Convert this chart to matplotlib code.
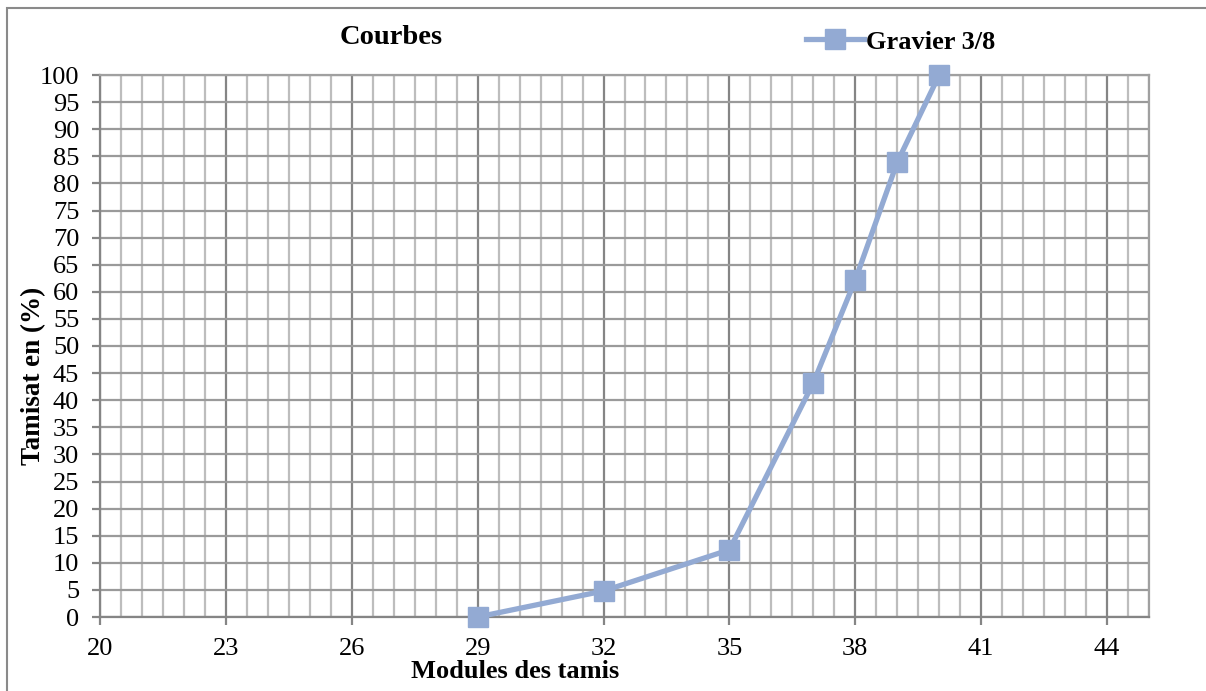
import matplotlib.pyplot as plt
import numpy as np
from matplotlib.patches import Rectangle

# Courbe granulométrique : gravier 3/8
modules = [29, 32, 35, 37, 38, 39, 40]
tamisat = [0, 4.8, 12.4, 43.2, 62.2, 83.9, 100]
serie = "Gravier 3/8"
x_ticks = [20, 23, 26, 29, 32, 35, 38, 41, 44]
y_ticks = list(range(0, 101, 5))

plt.rcParams['font.family'] = ['Liberation Serif', 'DejaVu Serif']

W, H = 1206, 691
fig = plt.figure(figsize=(W / 100, H / 100), dpi=100)
ax = fig.add_axes([100 / W, 1 - 617 / H, 1049 / W, 542 / H])

bleu = '#93aad3'
ax.plot(modules, tamisat, color=bleu, lw=3.8, marker='s', ms=14,
        markeredgecolor=bleu, markerfacecolor=bleu, label=serie, zorder=5,
        clip_on=False)

ax.set_xlim(20, 45)
ax.set_ylim(0, 100)
ax.set_xticks(x_ticks)
ax.set_xticks(np.arange(20, 45.01, 0.5), minor=True)
ax.set_yticks(y_ticks)

ax.grid(which='major', axis='x', color='#858585', lw=1.6)
ax.grid(which='minor', axis='x', color='#bdbdbd', lw=1.6)
ax.grid(which='major', axis='y', color='#9a9a9a', lw=1.6)
ax.set_axisbelow(True)

for s in ax.spines.values():
    s.set_color('#a0a0a0')
    s.set_linewidth(1.6)
ax.spines['left'].set_color('#858585')
ax.spines['bottom'].set_color('#858585')

ax.tick_params(axis='both', which='major', labelsize=19, color='#858585',
               width=1.6, length=6, direction='out')
ax.tick_params(axis='y', pad=9)
ax.tick_params(axis='x', pad=9)
ax.tick_params(axis='x', which='minor', length=0)

fig.text(391 / W, 1 - 37 / H, "Courbes", fontsize=20.5, fontweight='bold',
         ha='center', va='center')
fig.text(515 / W, 1 - 672 / H, "Modules des tamis", fontsize=19,
         fontweight='bold', ha='center', va='center')
fig.text(34 / W, 1 - 376 / H, "Tamisat en (%)", fontsize=19.5,
         fontweight='bold', ha='center', va='center', rotation=90)

fig.legend(loc='center left', bbox_to_anchor=(793 / W, 1 - 42 / H),
           frameon=False, prop={'size': 19, 'weight': 'bold'},
           handlelength=2.2, handletextpad=0.05, borderpad=0)

# cadre du graphique
fig.add_artist(Rectangle((7 / W, -0.05), 1.2, 1 - 8 / H + 0.05,
                         transform=fig.transFigure, fill=False,
                         edgecolor='#8a8a8a', lw=1.5))

fig.savefig('out.png', dpi=100)
